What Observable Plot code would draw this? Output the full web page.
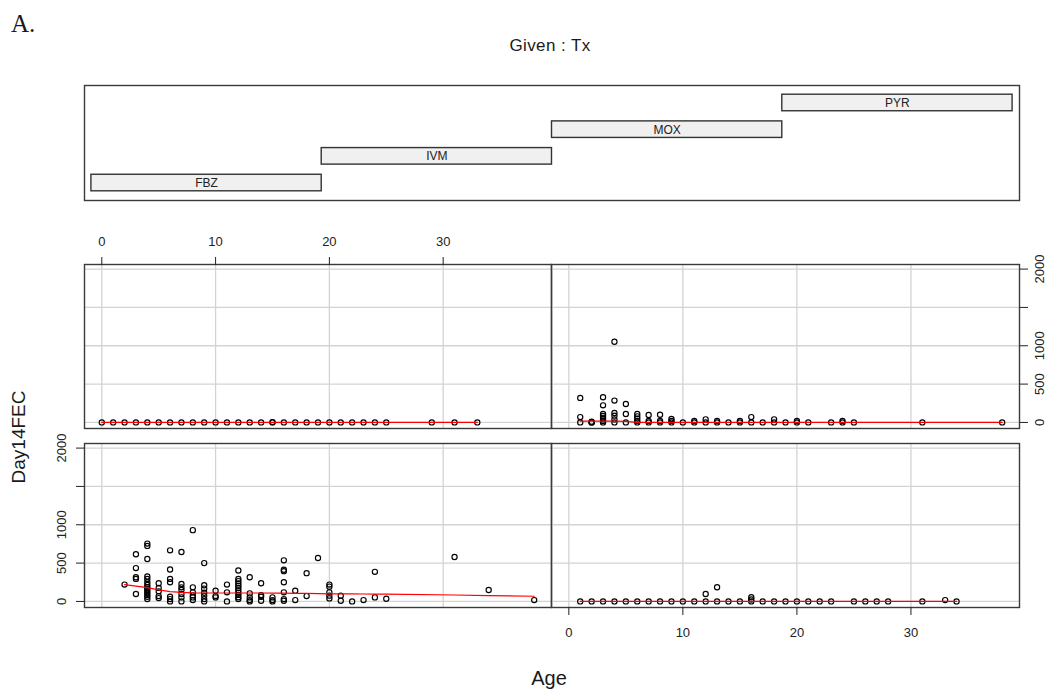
<!DOCTYPE html>
<html>
<head>
<meta charset="utf-8">
<script src="https://cdn.jsdelivr.net/npm/d3@7"></script>
<script src="https://cdn.jsdelivr.net/npm/@observablehq/plot@0.6"></script>
<style>
  body { margin: 0; background: #fff; font-family: "Liberation Sans", Arial, sans-serif; }
  #fig { position: relative; width: 1048px; height: 693px; overflow: hidden; background: #fff; }
  #fig .p { position: absolute; }
  #fig svg { overflow: visible; max-width: none; display: block; }
  .t { position: absolute; white-space: nowrap; color: #1a1a1a; line-height: 1; }
</style>
</head>
<body>
<div id="fig"></div>
<script>
// Conditioning factor levels (drawn left to right, bottom to top)
const treatments = ["FBZ", "IVM", "MOX", "PYR"];

// Axis ticks
const xTicks = [0, 10, 20, 30];
const yTicks = [0, 500, 1000, 1500, 2000];
const yTickLabels = ["0", "500", "1000", "", "2000"];

// Day-14 faecal egg counts, grouped by age: [age, [counts]]
const fbzCounts = [
  [2, [220]],
  [3, [615, 435, 316, 294, 97]],
  [4, [755, 724, 553, 325, 294, 250, 215, 185, 160, 135, 110, 85, 60, 31]],
  [5, [237, 176, 132, 70, 44]],
  [6, [667, 417, 294, 250, 61, 31, 0]],
  [7, [645, 228, 184, 149, 97, 53, 0]],
  [8, [930, 184, 119, 79, 53, 18]],
  [9, [500, 211, 167, 114, 75, 31, 0]],
  [10, [140, 70, 53]],
  [11, [220, 119, 0]],
  [12, [404, 294, 265, 235, 205, 175, 145, 115, 85, 55, 31]],
  [13, [316, 105, 53, 18, 0]],
  [14, [237, 83, 61, 9]],
  [15, [53, 18, 0]],
  [16, [536, 413, 395, 250, 119, 31, 9]],
  [17, [140, 18]],
  [18, [369, 70]],
  [19, [566]],
  [20, [220, 193, 119, 75, 40]],
  [21, [75, 9]],
  [22, [0]],
  [23, [18]],
  [24, [386, 53]],
  [25, [35]],
  [31, [580]],
  [34, [149]],
  [38, [18]]
];

const ivmCounts = [
  [1, [0]], [2, [0]], [3, [0]], [4, [0]], [5, [0]], [6, [0]], [7, [0]], [8, [0]],
  [9, [0]], [10, [0]], [11, [0]], [12, [97, 0]], [13, [185, 0]], [14, [0]], [15, [0]],
  [16, [55, 25, 0]], [17, [0]], [18, [0]], [19, [0]], [20, [0]], [21, [0]], [22, [0]],
  [23, [0]], [25, [0]], [26, [0]], [27, [0]], [28, [0]], [31, [0]], [33, [18]], [34, [0]]
];

const moxCounts = [
  [0, [0]], [1, [0]], [2, [0]], [3, [0]], [4, [0]], [5, [0]], [6, [0]], [7, [0]],
  [8, [0]], [9, [0]], [10, [0]], [11, [0]], [12, [0]], [13, [0]], [14, [0]], [15, [0, 5]],
  [16, [0]], [17, [0]], [18, [0]], [19, [0]], [20, [0]], [21, [0]], [22, [0]], [23, [0]],
  [24, [0]], [25, [0]], [29, [0]], [31, [0]], [33, [0]]
];

const pyrCounts = [
  [1, [320, 70, 0]],
  [2, [10, 0, 0]],
  [3, [328, 223, 110, 85, 60, 40, 20, 0]],
  [4, [1052, 285, 123, 88, 40, 0]],
  [5, [241, 110, 0]],
  [6, [110, 80, 50, 20, 0]],
  [7, [97, 20, 0]],
  [8, [100, 20, 0]],
  [9, [45, 20, 0]],
  [10, [0]], [11, [20, 0]], [12, [40, 0]], [13, [20, 0]], [14, [0]], [15, [20, 0]],
  [16, [70, 0]], [17, [0]], [18, [40, 0]], [19, [0]], [20, [20, 0]], [21, [0]],
  [23, [0]], [24, [20, 0]], [25, [0]], [31, [0]], [38, [0]]
];

// Lowess smoother through each panel: [age, fitted count]
const fbzSmooth = [
  [2, 220], [3, 200], [4, 180], [5, 150], [6, 128], [7, 118], [8, 112], [9, 110],
  [10, 110], [11, 110], [12, 110], [13, 110], [14, 110], [15, 108], [16, 108], [17, 106],
  [18, 104], [19, 102], [20, 100], [21, 99], [22, 98], [23, 97], [24, 96], [25, 95],
  [31, 84], [34, 76], [38, 68]
];
const ivmSmooth = [[1, 0], [34, 0]];
const moxSmooth = [[0, 0], [33, 0]];
const pyrSmooth = [[1, 17], [2, 17], [3, 16], [4, 16], [5, 15], [6, 1], [7, 0], [38, 0]];

// ---------------------------------------------------------------------------
const xDomain = [-1.52, 39.52];
const yDomain = [-79, 2060];
const FONT = "'Liberation Sans', Arial, sans-serif";
const fig = document.getElementById("fig");

const toRows = counts => counts.flatMap(([age, fecs]) => fecs.map(fec => ({age, fec})));

function place(el, left, top) {
  const d = document.createElement("div");
  d.className = "p";
  d.style.left = left + "px";
  d.style.top = top + "px";
  d.appendChild(el);
  fig.appendChild(d);
}

function label(text, css) {
  const d = document.createElement("div");
  d.className = "t";
  d.textContent = text;
  Object.assign(d.style, css);
  fig.appendChild(d);
}

const PW = [467, 468]; // panel widths (left, right column)
const PH = 164;        // panel height
const AX = 40;         // room for an outer axis

function panel(counts, smooth, {width, margins, axis}) {
  const marks = [
    Plot.gridX(xTicks, {stroke: "#d3d3d3", strokeOpacity: 1, strokeWidth: 1.3}),
    Plot.gridY(yTicks, {stroke: "#d3d3d3", strokeOpacity: 1, strokeWidth: 1.3}),
    Plot.frame({stroke: "#3a3a3a", strokeWidth: 1.4}),
    Plot.dot(toRows(counts), {x: "age", y: "fec", r: 2.6, stroke: "#000", strokeWidth: 1.15, fill: "none"}),
    Plot.line(smooth, {stroke: "#ff0000", strokeWidth: 1.2})
  ];
  const tickFormat = d => yTickLabels[yTicks.indexOf(d)];
  if (axis === "top") marks.push(Plot.axisX({anchor: "top", ticks: xTicks, tickSize: 8, tickPadding: 11, label: null, stroke: "#222", fill: "#222"}));
  if (axis === "bottom") marks.push(Plot.axisX({anchor: "bottom", ticks: xTicks, tickSize: 8, tickPadding: 12, label: null, stroke: "#222", fill: "#222"}));
  if (axis === "left") marks.push(Plot.axisY({anchor: "left", ticks: yTicks, tickFormat, tickSize: 8, tickPadding: 11, tickRotate: -90, label: null, stroke: "#222", fill: "#222"}));
  if (axis === "right") marks.push(Plot.axisY({anchor: "right", ticks: yTicks, tickFormat, tickSize: 8, tickPadding: 7, tickRotate: -90, lineAnchor: "top", label: null, stroke: "#222", fill: "#222"}));
  return Plot.plot({
    width,
    height: PH + (margins.marginTop || 0) + (margins.marginBottom || 0),
    marginTop: 0, marginBottom: 0, marginLeft: 0, marginRight: 0,
    ...margins,
    x: {type: "linear", domain: xDomain, axis: null},
    y: {type: "linear", domain: yDomain, axis: null},
    style: {background: "transparent", overflow: "visible", fontFamily: FONT, fontSize: "13px", color: "#222"},
    marks
  });
}

// Bottom row: FBZ (left), IVM (right); top row: MOX (left), PYR (right)
place(panel(moxCounts, moxSmooth, {width: PW[0], margins: {marginTop: AX}, axis: "top"}), 84, 264 - AX);
place(panel(pyrCounts, pyrSmooth, {width: PW[1] + AX, margins: {marginRight: AX}, axis: "right"}), 551, 264);
place(panel(fbzCounts, fbzSmooth, {width: PW[0] + AX, margins: {marginLeft: AX}, axis: "left"}), 84 - AX, 443);
place(panel(ivmCounts, ivmSmooth, {width: PW[1], margins: {marginBottom: AX}, axis: "bottom"}), 551, 443);

// Given panel: one interval per treatment level
const given = Plot.plot({
  width: 935, height: 115,
  marginTop: 0, marginBottom: 0, marginLeft: 0, marginRight: 0,
  x: {type: "linear", domain: [0.47, 4.53], axis: null},
  y: {type: "linear", domain: [0.345, 4.655], axis: null},
  style: {background: "transparent", overflow: "visible", fontFamily: FONT, fontSize: "12px"},
  marks: [
    Plot.frame({stroke: "#3a3a3a", strokeWidth: 1.4}),
    Plot.rect(treatments, {
      x1: (d, i) => i + 0.5, x2: (d, i) => i + 1.5,
      y1: (d, i) => i + 1 - 0.31, y2: (d, i) => i + 1 + 0.31,
      fill: "#f0f0f0", stroke: "#333", strokeWidth: 1.4
    }),
    Plot.text(treatments, {x: (d, i) => i + 1, y: (d, i) => i + 1, text: d => d, fill: "#222", fontSize: 12})
  ]
});
place(given, 84, 85);

// Titles
label("A.", {left: "11px", top: "11px", fontFamily: "'Liberation Serif', 'DejaVu Serif', serif", fontSize: "25px"});
label("Given : Tx", {left: "550px", top: "45px", transform: "translate(-50%, -50%)", fontSize: "17px", letterSpacing: "0.4px"});
label("Age", {left: "549px", top: "678px", transform: "translate(-50%, -50%)", fontSize: "20px"});
label("Day14FEC", {left: "18px", top: "437px", transform: "translate(-50%, -50%) rotate(-90deg)", fontSize: "19px"});
</script>
</body>
</html>
